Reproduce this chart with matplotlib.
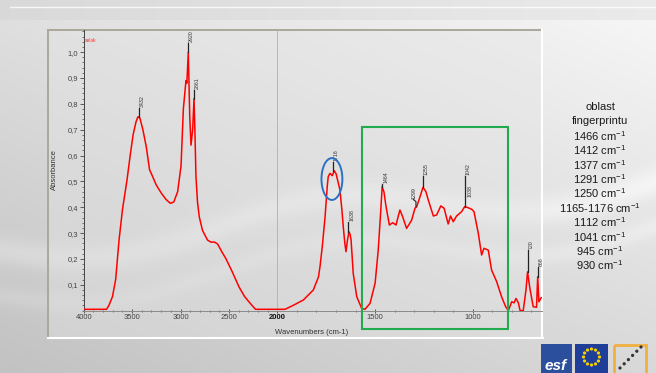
import numpy as np
import matplotlib
matplotlib.use("Agg")
import matplotlib.pyplot as plt
from matplotlib.patches import Rectangle, Ellipse, Circle
from matplotlib.ticker import MultipleLocator, FixedLocator, FuncFormatter

plt.rcParams['font.family'] = ['Liberation Sans', 'DejaVu Sans']
plt.rcParams['mathtext.default'] = 'regular'

# ---------------- data ----------------
wavenumbers = [4000, 3800, 3764, 3740, 3703, 3670, 3635, 3600, 3553, 3520, 3490, 3460,
               3440, 3420, 3389, 3354, 3320, 3290, 3251, 3200, 3150, 3105, 3070, 3030,
               2995, 2971, 2944, 2935, 2920, 2905, 2892, 2875, 2861, 2852, 2841, 2825,
               2807, 2773, 2722, 2687, 2650, 2618, 2570, 2533, 2466, 2397, 2340, 2294,
               2250, 2226, 2000, 1961, 1920, 1867, 1816, 1790, 1782, 1770, 1756, 1745,
               1740, 1731, 1719, 1709, 1700, 1692, 1680, 1670, 1663, 1655, 1649, 1642,
               1634, 1628, 1623, 1612, 1594, 1569, 1552, 1526, 1500, 1484, 1470, 1464,
               1455, 1444, 1427, 1410, 1393, 1380, 1373, 1359, 1339, 1313, 1296, 1287,
               1270, 1255, 1240, 1228, 1202, 1185, 1164, 1147, 1126, 1114, 1100, 1083,
               1057, 1042, 1030, 1006, 994, 972, 955, 943, 921, 904, 878, 853, 832, 818,
               801, 789, 779, 767, 758, 742, 728, 720, 708, 691, 674, 668, 662, 650]
absorbance = [0.005, 0.005, 0.005, 0.02, 0.054, 0.12, 0.273, 0.39, 0.505, 0.6, 0.68, 0.73,
              0.75, 0.745, 0.70, 0.634, 0.545, 0.52, 0.486, 0.455, 0.43, 0.415, 0.42, 0.46,
              0.56, 0.78, 0.89, 0.88, 1.0, 0.75, 0.64, 0.70, 0.82, 0.70, 0.52, 0.42,
              0.363, 0.31, 0.273, 0.265, 0.265, 0.258, 0.225, 0.202, 0.15, 0.092, 0.055, 0.034,
              0.015, 0.005, 0.005, 0.005, 0.02, 0.041, 0.08, 0.13, 0.17, 0.25, 0.363, 0.48,
              0.518, 0.531, 0.522, 0.541, 0.53, 0.505, 0.467, 0.39, 0.325, 0.26, 0.228, 0.27,
              0.305, 0.295, 0.273, 0.144, 0.054, 0.009, 0.005, 0.028, 0.106, 0.234, 0.40, 0.479,
              0.46, 0.402, 0.331, 0.34, 0.331, 0.37, 0.389, 0.363, 0.318, 0.35, 0.396, 0.402,
              0.441, 0.477, 0.46, 0.428, 0.366, 0.37, 0.405, 0.396, 0.335, 0.366, 0.344, 0.366,
              0.383, 0.402, 0.40, 0.392, 0.383, 0.299, 0.215, 0.241, 0.234, 0.157, 0.112, 0.054, 0.015, 0.0,
              0.034, 0.03, 0.047, 0.03, 0.0, 0.0, 0.08, 0.15, 0.086, 0.015, 0.013, 0.131, 0.034, 0.05]

peak_labels = ["3432", "2920", "2861", "1716", "1638", "1464", "1299", "1255", "1042", "1038", "720", "668"]
peak_positions = [3432, 2920, 2861, 1716, 1638, 1464, 1291, 1255, 1042, 1038, 720, 668]
peak_values = [0.75, 1.0, 0.82, 0.541, 0.305, 0.479, 0.402, 0.477, 0.402, 0.402, 0.15, 0.131]
peak_tops = [0.785, 1.035, 0.855, 0.576, 0.344, 0.49, 0.43, 0.52, 0.52, 0.44, 0.234, 0.168]

fingerprint_lines = ["oblast", "fingerprintu", "1466", "1412", "1377", "1291", "1250",
                     "1165-1176", "1112", "1041", "945", "930"]

y_ticks = [0.1, 0.2, 0.3, 0.4, 0.5, 0.6, 0.7, 0.8, 0.9, 1.0]
x_ticks_left = [4000, 3500, 3000, 2500, 2000]
x_ticks_right = [1500, 1000]

# ---------------- figure ----------------
W, H = 656, 373
fig = plt.figure(figsize=(W / 100, H / 100), dpi=100)

# background (pixel coordinates)
bg = fig.add_axes([0, 0, 1, 1], zorder=0)
bg.set_xlim(0, W)
bg.set_ylim(H, 0)
bg.axis('off')
yy, xx = np.mgrid[0:H, 0:W]
v = 0.88 - 0.12 * (yy / H) + 0.09 * (xx / W)
streak_c = 250 - 70 * xx / W + 18 * np.sin(xx / 70.0)
v += 0.05 * np.exp(-((yy - streak_c) / 14.0) ** 2)
v += 0.03 * np.exp(-((yy - (streak_c + 45)) / 10.0) ** 2)
v[:20, :] = 0.85 + 0.07 * (xx[:20, :] / W)
v = np.clip(v, 0, 1)
img = np.dstack([v, v, v])
bg.imshow(img, extent=(0, W, H, 0), aspect='auto', interpolation='bilinear')
bg.plot([10, W], [7, 7], color='white', lw=1.0, alpha=0.8)

# plot panel frame
bg.add_patch(Rectangle((48, 30), 494, 308, facecolor='#e4e4e4', edgecolor='none', alpha=0.4))
bg.plot([48, 48], [338, 30], color='#aaa89a', lw=1.4)
bg.plot([48, 542], [30, 30], color='#aaa89a', lw=1.4)
bg.plot([48, 543], [338, 338], color='white', lw=1.5)
bg.plot([542, 542], [30, 338], color='white', lw=1.5)

# logos
bg.add_patch(Rectangle((541, 344), 31, 29, facecolor='#2b4f9c', edgecolor='none'))
bg.text(556, 366, "esf", color='white', fontsize=11, fontweight='bold', ha='center', va='center',
        style='italic')
bg.add_patch(Rectangle((575, 344), 33, 29, facecolor='#1f3e97', edgecolor='none'))
for k in range(12):
    a = 2 * np.pi * k / 12
    bg.add_patch(Circle((591.5 + 8 * np.cos(a), 357 + 8 * np.sin(a)), 0.9, color='#f5d000'))
bg.add_patch(Rectangle((614, 345), 32, 30, facecolor='none', edgecolor='#f0b040', lw=2))
for k in range(6):
    bg.add_patch(Circle((620 + 4.2 * k, 368 - 4.2 * k), 0.9, color='#333333'))

# fingerprint text
ycur = 107
for i, line in enumerate(fingerprint_lines):
    s = line if i < 2 else line + r" cm$^{-1}$"
    bg.text(600, ycur, s, fontsize=8, ha='center', va='center', color='#1a1a1a')
    ycur += 14.4

# labels
bg.text(312, 332, "Wavenumbers (cm-1)", fontsize=5.5, ha='center', va='center', color='#333333')
bg.text(54, 170, "Absorbance", fontsize=5.5, ha='center', va='center', rotation=90, color='#333333')

# ---------------- data axes ----------------
x0 = 83.7 / W
xm = 277.4 / W
x1 = 542.0 / W
ybot = (H - 310.6) / H
ytop = (H - 30.0) / H
YMAX = (310.6 - 30.0) / 258.5

wn = np.array(wavenumbers, dtype=float)
ab = np.array(absorbance, dtype=float)

axL = fig.add_axes([x0, ybot, xm - x0, ytop - ybot], zorder=2)
axR = fig.add_axes([xm, ybot, x1 - xm, ytop - ybot], zorder=2)
for ax in (axL, axR):
    ax.patch.set_alpha(0)
    ax.set_ylim(0, YMAX)
    for s in ('top', 'right'):
        ax.spines[s].set_visible(False)
    ax.spines['bottom'].set_color('#8a8a8a')
    ax.spines['bottom'].set_linewidth(0.7)
    ax.tick_params(axis='x', which='both', direction='inout', colors='#444444', labelsize=5.5,
                   pad=1.5)
    ax.tick_params(axis='x', which='major', length=2.5, width=0.6)
    ax.tick_params(axis='x', which='minor', length=1.8, width=0.5)
    ax.xaxis.set_minor_locator(MultipleLocator(100))

axL.set_xlim(4000, 2000)
axR.set_xlim(2000, 646)

axL.xaxis.set_major_locator(FixedLocator(x_ticks_left))
axL.xaxis.set_major_formatter(FuncFormatter(lambda v, p: f"{int(v)}"))
axR.xaxis.set_major_locator(FixedLocator(x_ticks_right))
axR.xaxis.set_major_formatter(FuncFormatter(lambda v, p: f"{int(v)}"))
for lbl in axL.get_xticklabels():
    if lbl.get_text() == "2000":
        lbl.set_fontweight('bold')
        lbl.set_color('#111111')

axL.spines['left'].set_color('#444444')
axL.spines['left'].set_linewidth(0.7)
axL.yaxis.set_major_locator(FixedLocator(y_ticks))
axL.yaxis.set_minor_locator(MultipleLocator(0.02))
axL.yaxis.set_major_formatter(FuncFormatter(lambda v, p: f"{v:.1f}".replace('.', ',')))
axL.tick_params(axis='y', which='both', direction='out', colors='#444444', labelsize=5.5, pad=1)
axL.tick_params(axis='y', which='major', length=3, width=0.6)
axL.tick_params(axis='y', which='minor', length=1.5, width=0.5)

axR.spines['left'].set_color('#b5b5b5')
axR.spines['left'].set_linewidth(0.7)
axR.tick_params(axis='y', left=False, labelleft=False)

mL = wn >= 2000
mR = wn <= 2000
axL.plot(wn[mL], ab[mL], color='#ff0000', lw=1.1, zorder=3)
axR.plot(wn[mR], ab[mR], color='#ff0000', lw=1.1, zorder=3)

axL.text(3990, 1.045, "selak", color='#ff3030', fontsize=3.5, ha='left', va='center')

# peak markers
for lab, px, pv, pt in zip(peak_labels, peak_positions, peak_values, peak_tops):
    ax = axL if px >= 2000 else axR
    span = 2000 if ax is axL else 1354
    dx = span * 0.012
    if lab == "1299":
        ax.plot([px, px, px + 14], [pv, pv + 0.02, pt], color='#222222', lw=0.8, zorder=4)
        ax.text(px + 20, pt + 0.003, lab, rotation=90, fontsize=3.8, ha='left', va='bottom',
                color='#333333')
        continue
    if lab == "1038":
        ax.text(px - dx * 0.6, pt, lab, rotation=90, fontsize=3.8, ha='left', va='bottom',
                color='#333333')
        continue
    ax.plot([px, px], [pv, pt], color='#222222', lw=0.9, zorder=4)
    ax.text(px - dx * 0.3, pt + 0.003, lab, rotation=90, fontsize=3.8, ha='left', va='bottom',
            color='#333333')

# highlight shapes
axR.add_patch(Rectangle((1567, -0.071), 822 - 1567, 0.71 + 0.071, fill=False,
                        edgecolor='#22aa4e', lw=1.5, clip_on=False, zorder=5))
axR.add_patch(Ellipse((1721, 0.509), 107, 0.162, fill=False, edgecolor='#2a72c4', lw=1.4,
                      clip_on=False, zorder=5))

fig.savefig("out.png", dpi=100)
